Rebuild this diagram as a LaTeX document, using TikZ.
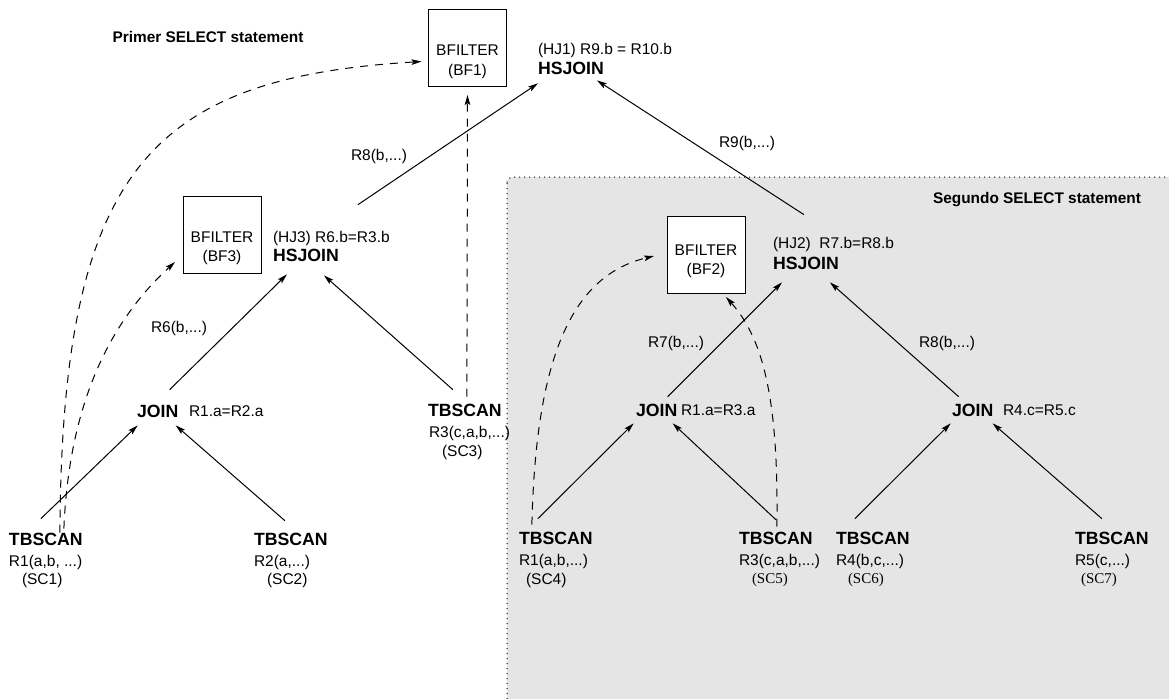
\documentclass[tikz,border=0pt]{standalone}
\usepackage{fontspec}
\setmainfont{Liberation Sans}
\newfontfamily\timesfont{Liberation Serif}
\usetikzlibrary{arrows.meta}

\definecolor{regiongray}{RGB}{229,229,229}

\begin{document}
\begin{tikzpicture}[x=0.5pt,y=-0.5pt,
  every node/.style={inner sep=0pt, outer sep=0pt},
  txt/.style={anchor=west, font=\fontsize{7.75pt}{9pt}\selectfont, text height=5.55pt, text depth=0pt},
  op/.style={anchor=west, font=\fontsize{8.85pt}{10pt}\selectfont\bfseries, text height=6.35pt, text depth=0pt},
  ttl/.style={font=\fontsize{7.7pt}{9pt}\selectfont\bfseries, text height=5.5pt, text depth=0pt},
  serif/.style={anchor=west, font=\fontsize{7.5pt}{9pt}\selectfont\timesfont, text height=4.97pt, text depth=0pt},
  bfbox/.style={draw, line width=0.5pt, minimum width=39pt, minimum height=38.5pt, fill=white},
  flow/.style={line width=0.5pt, -{Stealth[length=5pt,width=2.8pt,inset=1pt]}},
  bloom/.style={flow, dash pattern=on 4pt off 3.5pt},
  region/.style={fill=regiongray, line width=0.5pt, dash pattern=on 0.5pt off 2pt, rounded corners=3pt},
]
\useasboundingbox (0,0) rectangle (1169,698);

% second SELECT statement area
\begin{scope}
  \clip (0,0) rectangle (1169,698);
  \draw[region] (507,177) rectangle (1190,720);
\end{scope}

% section titles
\node[ttl] (t1) at (208,37) {Primer SELECT statement};
\node[ttl] (t2) at (1037,198) {Segundo SELECT statement};

% bloom filters
\node[bfbox] (bf1) at (467.5,47.5) {};
\node[txt,anchor=center] (bf1a) at (467.5,50) {BFILTER};
\node[txt,anchor=center] (bf1b) at (467.5,70) {(BF1)};

\node[bfbox] (bf3) at (222,235) {};
\node[txt,anchor=center] (bf3a) at (222,237) {BFILTER};
\node[txt,anchor=center] (bf3b) at (222,256) {(BF3)};

\node[bfbox] (bf2) at (706,254.5) {};
\node[txt,anchor=center] (bf2a) at (706,250) {BFILTER};
\node[txt,anchor=center] (bf2b) at (706,269) {(BF2)};

% hash joins
\node[txt] (hj1l) at (538,49) {(HJ1) R9.b = R10.b};
\node[op]  (hj1)  at (538,68) {HSJOIN};
\node[txt] (hj3l) at (273,237) {(HJ3) R6.b=R3.b};
\node[op]  (hj3)  at (273,255) {HSJOIN};
\node[txt] (hj2l) at (773,243) {(HJ2)\ \ R7.b=R8.b};
\node[op]  (hj2)  at (773,263) {HSJOIN};

% joins
\node[op]  (join1)  at (137,411) {JOIN};
\node[txt] (join1l) at (189,411) {R1.a=R2.a};
\node[op]  (join2)  at (636,410) {JOIN};
\node[txt] (join2l) at (681,410) {R1.a=R3.a};
\node[op]  (join3)  at (952,410) {JOIN};
\node[txt] (join3l) at (1003,410) {R4.c=R5.c};

% table scans
\node[op]  (sc1)  at (9,539) {TBSCAN};
\node[txt] (sc1r) at (9,561) {R1(a,b, ...)};
\node[txt] (sc1n) at (22,579) {(SC1)};

\node[op]  (sc2)  at (254,539) {TBSCAN};
\node[txt] (sc2r) at (254,561) {R2(a,...)};
\node[txt] (sc2n) at (267,579) {(SC2)};

\node[op]  (sc3)  at (428,410) {TBSCAN};
\node[txt] (sc3r) at (429,432) {R3(c,a,b,...)};
\node[txt] (sc3n) at (442,451) {(SC3)};

\node[op]  (sc4)  at (519,538) {TBSCAN};
\node[txt] (sc4r) at (519,560) {R1(a,b,...)};
\node[txt] (sc4n) at (526,579) {(SC4)};

\node[op]    (sc5)  at (739,538) {TBSCAN};
\node[txt]   (sc5r) at (739,560) {R3(c,a,b,...)};
\node[serif] (sc5n) at (752,579) {(SC5)};

\node[op]    (sc6)  at (836,538) {TBSCAN};
\node[txt]   (sc6r) at (836,560) {R4(b,c,...)};
\node[serif] (sc6n) at (848,579) {(SC6)};

\node[op]    (sc7)  at (1075,538) {TBSCAN};
\node[txt]   (sc7r) at (1075,560) {R5(c,...)};
\node[serif] (sc7n) at (1081,579) {(SC7)};

% stream labels
\node[txt,anchor=center] (e6)  at (179,327) {R6(b,...)};
\node[txt,anchor=center] (e8)  at (379,155) {R8(b,...)};
\node[txt,anchor=center] (e9)  at (747,142) {R9(b,...)};
\node[txt,anchor=center] (e7)  at (676,342) {R7(b,...)};
\node[txt,anchor=center] (e8b) at (947,342) {R8(b,...)};

% data flow
\draw[flow] ([shift={(-5,-14)}]sc1.north) -- ([shift={(-20,8)}]join1.south);
\draw[flow] ([shift={(-6,-12)}]sc2.north) -- ([shift={(18,8)}]join1.south);
\draw[flow] ([shift={(12,-15)}]join1.north) -- ([shift={(-19,13)}]hj3.south);
\draw[flow] ([shift={(-12,-14)}]sc3.north) -- ([shift={(18,14)}]hj3.south);
\draw[flow] ([shift={(52,-44)}]hj3.north) -- ([shift={(-33,9)}]hj1.south);
\draw[flow] ([shift={(-2,-42)}]hj2.north) -- ([shift={(26,6)}]hj1.south);
\draw[flow] ([shift={(11,-7)}]join2.north) -- ([shift={(-24,13)}]hj2.south);
\draw[flow] ([shift={(-14,-7)}]join3.north) -- ([shift={(24,13)}]hj2.south);
\draw[flow] ([shift={(-18,-13)}]sc4.north) -- ([shift={(-23,7)}]join2.south);
\draw[flow] ([shift={(0,-12)}]sc5.north) -- ([shift={(16,7)}]join2.south);
\draw[flow] ([shift={(-18,-13)}]sc6.north) -- ([shift={(-22,7)}]join3.south);
\draw[flow] ([shift={(-10,-13)}]sc7.north) -- ([shift={(20,7)}]join3.south);

% bloom filter feeds
\draw[bloom] ([shift={(2,-7)}]sc3.north) -- ([shift={(0,9)}]bf1.south);
\draw[bloom] ([shift={(14,0)}]sc1.north) .. controls (62,170) and (150,78) .. ([shift={(-7,14)}]bf1.west);
\draw[bloom] ([shift={(18,-4)}]sc1.north) .. controls (68,430) and (95,335) .. ([shift={(-8,27)}]bf3.west);
\draw[bloom] ([shift={(-24,-7)}]sc4.north) .. controls (536,350) and (575,275) .. ([shift={(-13,1.5)}]bf2.west);
\draw[bloom] ([shift={(1,-5)}]sc5.north) .. controls (779,390) and (760,335) .. ([shift={(20,4)}]bf2.south);
\end{tikzpicture}
\end{document}
